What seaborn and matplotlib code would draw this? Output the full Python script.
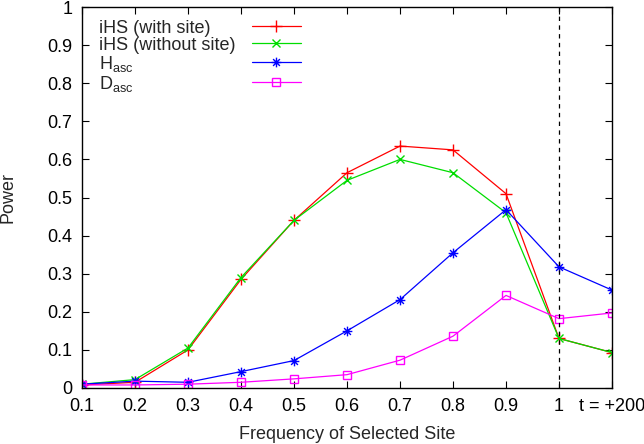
import numpy as np
import pandas as pd
import matplotlib
matplotlib.use("Agg")
import matplotlib.pyplot as plt
from matplotlib.path import Path
import seaborn as sns

# ── data ────────────────────────────────────────────────────────────────────
freq_labels = ["0.1", "0.2", "0.3", "0.4", "0.5", "0.6", "0.7", "0.8", "0.9", "1", "t = +200"]
ihs_with = [0.008, 0.015, 0.100, 0.285, 0.440, 0.565, 0.635, 0.625, 0.510, 0.130, 0.093]
ihs_without = [0.010, 0.022, 0.105, 0.290, 0.440, 0.545, 0.600, 0.565, 0.460, 0.130, 0.093]
h_asc = [0.010, 0.018, 0.015, 0.043, 0.072, 0.150, 0.232, 0.355, 0.468, 0.318, 0.257]
d_asc = [0.008, 0.008, 0.010, 0.015, 0.024, 0.035, 0.073, 0.136, 0.243, 0.182, 0.197]

# gnuplot-style asterisk: "+" and "x" on top of each other
_star = Path([(-1, 0), (1, 0), (0, -1), (0, 1),
              (-0.7, -0.7), (0.7, 0.7), (-0.7, 0.7), (0.7, -0.7)],
             [Path.MOVETO, Path.LINETO] * 4)

series = [
    ("iHS (with site)", ihs_with, "#ff0000", "+", 8),
    ("iHS (without site)", ihs_without, "#00dd00", "x", 6),
    (r"H$_{\mathrm{asc}}$", h_asc, "#0000ff", _star, 7),
    (r"D$_{\mathrm{asc}}$", d_asc, "#ff00ff", "s", 6),
]

sns.set_style("ticks")
plt.rcParams["font.family"] = ["Liberation Sans", "DejaVu Sans"]
plt.rcParams["mathtext.fontset"] = "custom"
plt.rcParams["mathtext.rm"] = "Liberation Sans"
plt.rcParams["mathtext.it"] = "Liberation Sans"

fig = plt.figure(figsize=(6.44, 4.44), dpi=100)
ax = fig.add_axes([82 / 644, 1 - 388 / 444, 530 / 644, 381 / 444])

pos = np.arange(len(freq_labels))
for label, vals, color, marker, ms in series:
    df = pd.DataFrame({"pos": pos, "power": vals})
    sns.lineplot(data=df, x="pos", y="power", ax=ax, color=color, lw=0.9,
                 marker=marker, markersize=ms, markeredgewidth=1.0,
                 markerfacecolor="none" if marker == "s" else color,
                 markeredgecolor=color, label=label)

ax.axvline(9, color="black", linestyle=(0, (3.5, 3.5)), lw=0.9)

ax.set_xlim(0, len(freq_labels) - 1)
ax.set_ylim(0, 1)
ax.set_xticks(pos)
ax.set_xticklabels(freq_labels)
ax.set_yticks(np.arange(0, 1.01, 0.1))
ax.set_yticklabels(["0", "0.1", "0.2", "0.3", "0.4", "0.5", "0.6", "0.7", "0.8", "0.9", "1"])
ax.tick_params(direction="in", top=True, right=True, length=5, width=0.8,
               labelsize=13, pad=7, colors="black")
for s in ax.spines.values():
    s.set_linewidth(1.0)
    s.set_color("black")

ax.set_xlabel("Frequency of Selected Site", fontsize=13, labelpad=8)
ax.set_ylabel("Power", fontsize=13, labelpad=22)

# gnuplot key: text left-aligned, line samples lined up on the right
base_sep = 0.9
leg = ax.legend(loc="upper left", markerfirst=False, frameon=False, fontsize=13,
                handlelength=2.7, handletextpad=base_sep, labelspacing=0.0,
                borderaxespad=0.0, borderpad=0.0,
                bbox_to_anchor=(17 / 530, 0.967))
renderer = fig.canvas.get_renderer()
widths = [t.get_window_extent(renderer).width for t in leg.get_texts()]
wmax = max(widths)
for col in leg._legend_handle_box.get_children():
    col.align = "left"
    for row, w in zip(col.get_children(), widths):
        row.sep = base_sep * 13 + (wmax - w) * 72 / fig.dpi

fig.savefig("out.png", dpi=100)
